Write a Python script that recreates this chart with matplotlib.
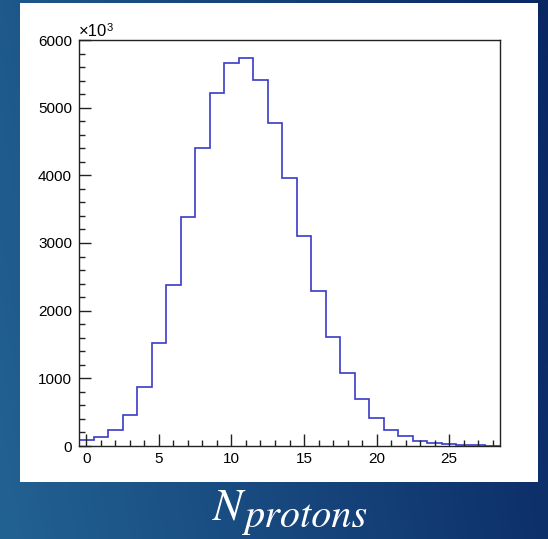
import numpy as np
import matplotlib
matplotlib.use('Agg')
import matplotlib.pyplot as plt
from matplotlib.patches import Rectangle
from matplotlib.ticker import MultipleLocator

plt.rcParams['font.family'] = ['Liberation Sans', 'DejaVu Sans']

# データ（y軸は x10^3 単位）
n_protons = list(range(29))
counts = [90, 130, 235, 460, 870, 1520, 2380, 3390, 4400, 5210, 5665, 5735,
          5405, 4770, 3965, 3110, 2295, 1615, 1080, 690, 420, 236, 148, 75,
          50, 30, 15, 8, 4]
x_ticks = [0, 5, 10, 15, 20, 25]
y_ticks = [0, 1000, 2000, 3000, 4000, 5000, 6000]

W, H = 548, 539
fig = plt.figure(figsize=(W/100, H/100), dpi=100)

# 背景グラデーション（左が明るい青、右が濃紺）
bg = fig.add_axes([0, 0, 1, 1])
gx = np.linspace(0, 1, 300)[None, :]
gy = np.linspace(0, 1, 300)[:, None]
t = np.clip(0.85*gx + 0.15*(1-gy), 0, 1)
c0 = np.array([0x22, 0x62, 0x92]) / 255.
c1 = np.array([0x0a, 0x27, 0x64]) / 255.
img = c0[None, None, :]*(1-t[..., None]) + c1[None, None, :]*t[..., None]
bg.imshow(img, extent=[0, 1, 0, 1], aspect='auto', origin='upper')
bg.set_xlim(0, 1)
bg.set_ylim(0, 1)
bg.axis('off')

# 白いパネル
fig.patches.append(Rectangle((20/W, 1-482/H), 518/W, 479/H,
                             transform=fig.transFigure, facecolor='white',
                             edgecolor='none', zorder=1))

ax = fig.add_axes([79/W, 1-446/H, 421/W, 406/H])
ax.set_zorder(2)
edges = np.arange(len(counts)+1) - 0.5
ax.stairs(counts, edges, baseline=None, color='#3a3ac8', linewidth=1.2)

ax.set_xlim(-0.5, 28.5)
ax.set_ylim(0, 6000)
ax.set_xticks(x_ticks)
ax.set_yticks(y_ticks)
ax.xaxis.set_minor_locator(MultipleLocator(1))
ax.yaxis.set_minor_locator(MultipleLocator(200))
ax.tick_params(axis='both', which='both', direction='in', color='#222222',
               width=1.0, top=False, right=False, labelsize=11)
ax.tick_params(axis='both', which='major', length=8.6)
ax.tick_params(axis='both', which='minor', length=4.5)
ax.tick_params(axis='y', which='major', pad=5)
ax.tick_params(axis='x', which='major', pad=4)
for s in ax.spines.values():
    s.set_color('#222222')
    s.set_linewidth(1.0)

# ×10^3 の表示
ax.text(0.0, 1.003, '×10', transform=ax.transAxes, ha='left', va='bottom',
        fontsize=12)
ax.text(0.066, 1.018, '3', transform=ax.transAxes, ha='left', va='bottom',
        fontsize=8)

# x軸ラベル（スライド上のテキスト）
fig.text(213/W, 1-519/H, 'N', color='white', fontsize=32,
         family='STIXGeneral', style='italic', ha='left', va='baseline')
fig.text(244/W, 1-527/H, 'protons', color='white', fontsize=29,
         family='STIXGeneral', style='italic', ha='left', va='baseline')

fig.savefig('out.png', dpi=100)
